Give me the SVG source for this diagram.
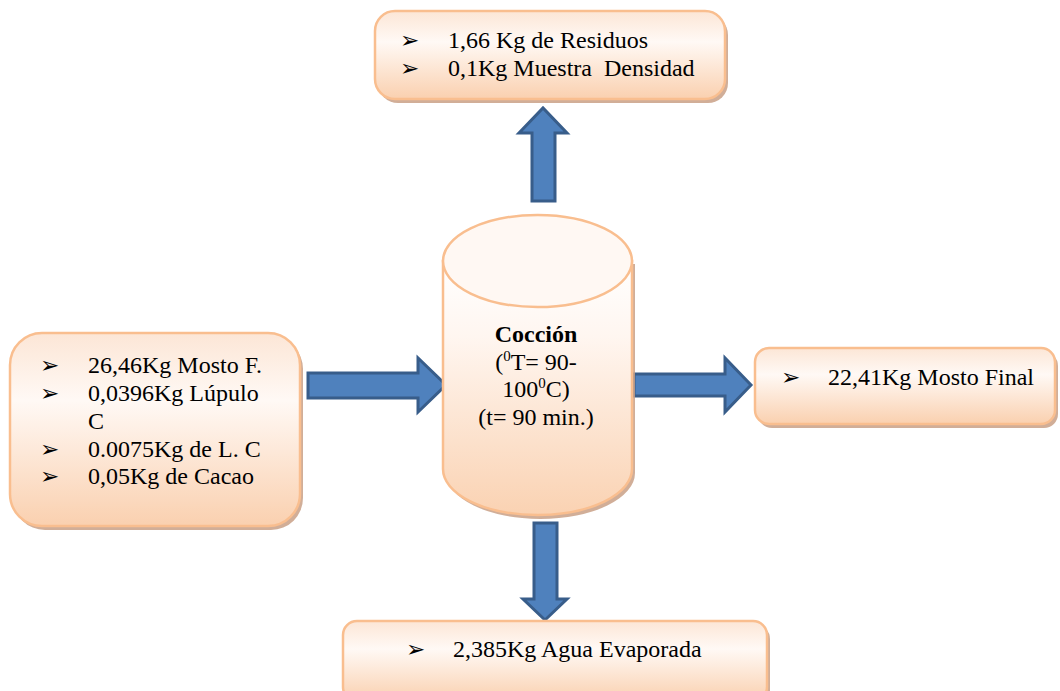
<svg xmlns="http://www.w3.org/2000/svg" width="1060" height="691" viewBox="0 0 1060 691">
<defs>
<linearGradient id="peach" x1="0" y1="0" x2="0" y2="1">
<stop offset="0" stop-color="#FCE6D6"/>
<stop offset="0.35" stop-color="#FFF9F5"/>
<stop offset="1" stop-color="#FAD0AF"/>
</linearGradient>
<linearGradient id="cyl" x1="0" y1="0" x2="0" y2="1">
<stop offset="0" stop-color="#FFFFFF"/>
<stop offset="0.3" stop-color="#FFF6F0"/>
<stop offset="1" stop-color="#FAD2B2"/>
</linearGradient>
<style>
.box{fill:url(#peach);stroke:#F9BE8F;stroke-width:2.5}
.shadow{fill:#C9A086;opacity:0.85}
.arrow{fill:#4F81BD;stroke:#385D8A;stroke-width:3;stroke-linejoin:miter}
.t{font-family:"Liberation Serif","Times New Roman",serif;font-size:24px;fill:#000}
.b{font-family:"DejaVu Sans",sans-serif;font-size:23px;fill:#000}
.bold{font-weight:bold}
</style>
</defs>
<rect width="1060" height="691" fill="#FFFFFF"/>
<g id="connectors">
<path class="arrow" d="M532,201 L532,133 L519,133 L543,108 L567,133 L555,133 L555,201 Z"/>
<path class="arrow" d="M308,373 L418,373 L418,358 L446,385 L418,412 L418,398 L308,398 Z"/>
<path class="arrow" d="M634,374 L725,374 L725,358 L751,385 L725,412 L725,396 L634,396 Z"/>
<path class="arrow" d="M534,523 L557,523 L557,599 L567,599 L545,620 L523,599 L534,599 Z"/>
</g>
<g id="node-residuos">
<rect class="shadow" x="378" y="15" width="350" height="88" rx="20"/>
<rect class="box" x="375" y="11" width="350" height="88" rx="20"/>
<text class="b" x="400" y="48">➢</text>
<text class="t" x="448" y="48">1,66 Kg de Residuos</text>
<text class="b" x="400" y="76">➢</text>
<text class="t" x="448" y="76" xml:space="preserve">0,1Kg Muestra  Densidad</text>
</g>
<g id="node-entrada">
<rect class="shadow" x="13" y="337" width="290" height="193" rx="32"/>
<rect class="box" x="10" y="333" width="290" height="193" rx="32"/>
<text class="b" x="40" y="373">➢</text>
<text class="t" x="88" y="373">26,46Kg Mosto F.</text>
<text class="b" x="40" y="401">➢</text>
<text class="t" x="88" y="401">0,0396Kg Lúpulo</text>
<text class="t" x="88" y="429">C</text>
<text class="b" x="40" y="457">➢</text>
<text class="t" x="88" y="457">0.0075Kg de L. C</text>
<text class="b" x="40" y="484">➢</text>
<text class="t" x="88" y="484">0,05Kg de Cacao</text>
</g>
<g id="node-coccion">
<path class="shadow" d="M446,264 L446,473 A94.5,46 0 0 0 635,473 L635,264 Z"/>
<path d="M443,261 L443,469 A94.5,46 0 0 0 632,469 L632,261 Z" fill="url(#cyl)" stroke="#F9BE8F" stroke-width="2.5"/>
<ellipse cx="537.5" cy="261" rx="94.5" ry="46" fill="#FFF8F3" stroke="#F9BE8F" stroke-width="2.5"/>
<text class="t bold" x="536" y="342" text-anchor="middle">Cocción</text>
<text class="t" x="536" y="370" text-anchor="middle">(<tspan font-size="15" dy="-9">0</tspan><tspan dy="9">T= 90-</tspan></text>
<text class="t" x="536" y="397" text-anchor="middle">100<tspan font-size="15" dy="-9">0</tspan><tspan dy="9">C)</tspan></text>
<text class="t" x="536" y="425" text-anchor="middle">(t= 90 min.)</text>
</g>
<g id="node-mosto-final">
<rect class="shadow" x="758" y="352" width="300" height="76" rx="14"/>
<rect class="box" x="755" y="348" width="300" height="76" rx="14"/>
<text class="b" x="781" y="385">➢</text>
<text class="t" x="828" y="385">22,41Kg Mosto Final</text>
</g>
<g id="node-agua">
<rect class="shadow" x="346" y="625" width="424" height="80" rx="14"/>
<rect class="box" x="343" y="621" width="424" height="80" rx="14"/>
<text class="b" x="406" y="657">➢</text>
<text class="t" x="453" y="657">2,385Kg Agua Evaporada</text>
</g>
</svg>
